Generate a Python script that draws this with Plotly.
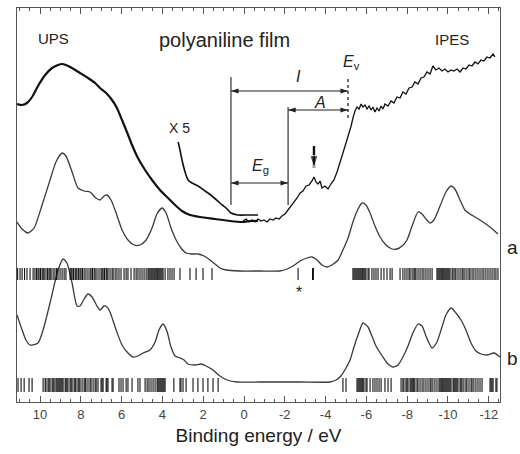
import plotly.graph_objects as go

# ---------------- data (binding energy in eV, intensity in arb. units) ----------------
ups_energy = [11.13, 10.88, 10.64, 10.39, 10.10, 9.75, 9.41, 9.12, 8.92, 8.73, 8.43, 8.04, 7.65, 7.30, 7.06,
              6.76, 6.47, 6.23, 5.98, 5.74, 5.49, 5.20, 4.85, 4.51, 4.12, 3.73, 3.38, 3.04, 2.65, 2.16,
              1.42, 0.69, 0.05, -0.29, -0.69]
ups_intensity = [298, 297, 299, 305, 316, 327, 334, 337, 338, 337, 334, 329, 324, 319, 314,
                 309, 302, 294, 282, 270, 257, 244, 232, 222, 212, 204, 197, 191, 187, 185,
                 183, 181, 180, 181, 181]

x5_energy = [3.23, 3.14, 3.04, 2.89, 2.74, 2.55, 2.25, 1.91, 1.57, 1.18, 0.88, 0.64, 0.30, -0.20, -0.69]
x5_intensity = [260, 252, 242, 230, 222, 219, 216, 211, 206, 199, 194, 189, 187, 187, 187]

ipes_energy = [0.05, -0.10, -0.25, -0.39, -0.54, -0.69, -0.83, -0.98, -1.13, -1.27,
               -1.42, -1.57, -1.72, -1.86, -2.01, -2.16, -2.30, -2.45, -2.60, -2.75,
               -2.89, -3.04, -3.19, -3.33,
               -3.43, -3.53, -3.63, -3.73, -3.82,
               -3.97, -4.12, -4.26, -4.41, -4.56, -4.71, -4.85, -5.00, -5.15,
               -5.25, -5.34, -5.44, -5.54, -5.64, -5.74, -5.83, -5.93, -6.03, -6.13,
               -6.23, -6.32, -6.42, -6.52, -6.62, -6.72, -6.81, -6.91,
               -7.06, -7.21, -7.35, -7.50, -7.65, -7.79, -7.94, -8.09, -8.24, -8.38,
               -8.53, -8.68, -8.82, -8.97, -9.12, -9.26, -9.41, -9.56, -9.71, -9.85,
               -10.00, -10.15, -10.29, -10.44, -10.59, -10.74, -10.88, -11.03, -11.18, -11.32,
               -11.47, -11.62, -11.76, -11.91, -12.06, -12.21,
               -12.30]
ipes_intensity = [181, 183, 180, 182, 180, 183, 181, 182, 180, 183,
                  182, 184, 183, 186, 188, 192, 195, 200, 204, 209,
                  211, 216, 217, 221,
                  225, 220, 218, 221, 214,
                  216, 213, 218, 222, 230, 239, 249, 259, 268,
                  276, 284, 291, 295, 293, 298, 295, 297, 293, 296,
                  292, 295, 290, 294, 291, 296, 293, 298,
                  296, 301, 299, 305, 304, 310, 308, 314, 315, 320,
                  318, 324, 325, 330, 328, 336, 332, 334, 331, 333,
                  330, 332, 331, 333, 330, 334, 333, 337, 336, 340,
                  338, 342, 341, 345, 344, 348,
                  345]

calc_a_energy = [11.13, 10.88, 10.59, 10.29, 9.90, 9.51, 9.22, 8.92, 8.73, 8.43,
                 8.14, 7.84, 7.55, 7.26, 7.06, 6.86, 6.72, 6.52, 6.27, 5.98,
                 5.69, 5.39, 5.10, 4.80, 4.51, 4.27, 4.02, 3.82, 3.58, 3.33,
                 3.09, 2.84, 2.55, 2.26, 1.96, 1.67, 1.42, 1.18, 0.88, 0.20,
                 -0.78, -1.76, -2.11, -2.40, -2.75, -3.09, -3.33, -3.58, -3.82, -4.07,
                 -4.31, -4.61, -4.85, -5.10, -5.34, -5.59, -5.79, -5.98, -6.18, -6.42,
                 -6.67, -6.96, -7.26, -7.50, -7.75, -7.99, -8.24, -8.53, -8.73, -8.92,
                 -9.12, -9.31, -9.61, -9.90, -10.15, -10.34, -10.59, -10.83, -11.08, -11.57,
                 -12.06, -12.45]
calc_a_intensity = [180, 173, 169, 174, 197, 222, 240, 249, 246, 230,
                    214, 211, 210, 204, 202, 206, 207, 202, 189, 172,
                    162, 157, 157, 162, 174, 188, 194, 189, 174, 162,
                    154, 149, 148, 148, 146, 142, 138, 134, 132, 131,
                    131, 131, 133, 136, 141, 144, 145, 142, 137, 135,
                    137, 142, 152, 164, 180, 193, 199, 197, 189, 176,
                    165, 157, 153, 153, 156, 162, 176, 190, 188, 183,
                    179, 182, 196, 210, 216, 213, 202, 192, 188, 182,
                    175, 168]

calc_b_energy = [11.13, 10.88, 10.69, 10.49, 10.10, 9.85, 9.51, 9.12, 8.87, 8.68,
                 8.43, 8.19, 8.04, 7.84, 7.65, 7.45, 7.21, 7.06, 6.86, 6.72,
                 6.57, 6.27, 5.98, 5.69, 5.44, 5.20, 4.95, 4.61, 4.36, 4.17,
                 3.97, 3.78, 3.58, 3.38, 3.14, 2.94, 2.75, 2.40, 2.11, 1.86,
                 1.52, 1.18, 0.83, 0.34, -0.78, -2.75, -4.22, -4.51, -4.75, -5.00,
                 -5.20, -5.39, -5.59, -5.83, -6.08, -6.27, -6.47, -6.81, -7.06, -7.30,
                 -7.55, -7.79, -8.04, -8.28, -8.53, -8.73, -8.92, -9.22, -9.46, -9.66,
                 -9.90, -10.15, -10.39, -10.64, -10.88, -11.13, -11.37, -11.62, -11.91, -12.26,
                 -12.55]
calc_b_intensity = [87, 72, 62, 57, 59, 72, 99, 132, 143, 139,
                    119, 96, 96, 103, 108, 105, 96, 92, 96, 95,
                    90, 72, 57, 49, 45, 46, 49, 52, 60, 72,
                    78, 71, 55, 46, 44, 42, 38, 37, 38, 36,
                    32, 26, 22, 20, 20, 20, 20, 22, 26, 34,
                    42, 55, 67, 79, 75, 66, 56, 45, 38, 35,
                    37, 45, 56, 69, 78, 76, 66, 54, 60, 72,
                    87, 94, 89, 82, 72, 59, 51, 48, 47, 49,
                    45]

# stick (level) spectra
sticks_a_energy = [11.10, 10.98, 10.88, 10.76, 10.64, 10.49, 10.34, 10.25, 10.17, 10.10,
                   10.05, 9.98, 9.90, 9.85, 9.80, 9.71, 9.63, 9.56, 9.51, 9.46,
                   9.36, 9.27, 9.19, 9.12, 9.02, 8.92, 8.82, 8.73, 8.53, 8.48,
                   8.43, 8.36, 8.28, 8.24, 8.19, 8.11, 8.04, 7.99, 7.92, 7.84,
                   7.75, 7.65, 7.55, 7.50, 7.43, 7.35, 7.30, 7.21, 7.11, 7.01,
                   6.96, 6.91, 6.84, 6.76, 6.72, 6.67, 6.57, 6.47, 6.42, 6.32,
                   6.23, 6.13, 6.03, 5.88, 5.78, 5.69, 5.54, 5.39, 5.29, 5.20,
                   5.10, 5.00, 4.90, 4.80, 4.71, 4.66, 4.61, 4.56, 4.51, 4.46,
                   4.41, 4.36, 4.31, 4.26, 4.22, 4.17, 4.12, 4.07, 4.02, 3.97,
                   3.87, 3.73, 3.63, 3.53, 3.43, 3.14, 2.65, 2.35, 2.01, 1.57,
                   -2.65, -3.36, -3.40,
                   -5.34, -5.39, -5.44, -5.49, -5.54, -5.59, -5.64, -5.69, -5.74, -5.79,
                   -5.83, -5.88, -5.93, -5.98, -6.08, -6.13, -6.27, -6.37, -6.47, -6.57,
                   -6.72, -6.86, -7.01, -7.16, -7.26, -7.65, -7.79, -7.89, -7.99, -8.09,
                   -8.14, -8.24, -8.33, -8.38, -8.43, -8.53, -8.63, -8.73, -8.82, -8.92,
                   -9.02, -9.12, -9.22, -9.46, -9.51, -9.56, -9.61, -9.66, -9.71, -9.75,
                   -9.80, -9.85, -9.90, -9.95, -10.00, -10.05, -10.10, -10.20, -10.25, -10.34,
                   -10.39, -10.49, -10.59, -10.69, -10.74, -10.83, -10.93, -11.03, -11.08, -11.18,
                   -11.27, -11.37, -11.47, -11.57, -11.67, -11.76, -11.86, -11.96, -12.06, -12.16,
                   -12.26, -12.35, -12.45]
sticks_b_energy = [11.08, 10.93, 10.78, 10.54, 10.39, 9.85, 9.75, 9.71, 9.61, 9.56,
                   9.51, 9.41, 9.36, 9.31, 9.22, 9.17, 9.12, 9.07, 9.02, 8.97,
                   8.92, 8.87, 8.77, 8.73, 8.68, 8.63, 8.53, 8.48, 8.43, 8.33,
                   8.28, 8.24, 8.14, 8.09, 8.04, 7.94, 7.84, 7.79, 7.75, 7.65,
                   7.55, 7.50, 7.40, 7.30, 7.25, 7.16, 7.01, 6.96, 6.91, 6.76,
                   6.72, 6.67, 6.47, 6.42, 6.13, 6.03, 5.93, 5.78, 5.69, 5.49,
                   5.20, 5.10, 4.85, 4.75, 4.66, 4.56, 4.46, 4.36, 4.26, 4.22,
                   4.17, 4.12, 4.07, 4.02, 3.97, 3.92, 3.87, 3.44, 3.14, 3.09,
                   2.99, 2.84, 2.50, 2.26, 2.01, 1.77, 1.52, 1.27,
                   -4.85, -5.00, -5.54, -5.59, -5.64, -5.69, -5.74, -5.79, -5.83, -5.88,
                   -5.98, -6.03, -6.18, -6.32, -6.42, -6.52, -6.62, -6.72, -6.91, -7.06,
                   -7.21, -7.70, -7.79, -7.84, -7.94, -7.99, -8.04, -8.14, -8.19, -8.24,
                   -8.29, -8.33, -8.38, -8.48, -8.53, -8.63, -8.73, -8.82, -8.92, -9.02,
                   -9.12, -9.17, -9.26, -9.36, -9.46, -9.56, -9.61, -9.66, -9.71, -9.75,
                   -9.80, -9.85, -9.90, -9.95, -10.00, -10.05, -10.10, -10.15, -10.25, -10.29,
                   -10.34, -10.39, -10.44, -10.49, -10.59, -10.64, -10.69, -10.78, -10.88, -10.93,
                   -11.03, -11.13, -11.18, -11.27, -11.37, -11.47, -11.57, -11.67, -12.06, -12.11,
                   -12.16, -12.21, -12.35, -12.40]
sticks_a_level = [122, 134]
sticks_b_level = [10, 24]

# energy markers (eV)
e_homo_onset = 0.64     # UPS onset line
e_lumo_onset = -2.16    # IPES onset line
e_vacuum = -5.10        # vacuum level Ev
e_gap_state = -3.43     # feature marked by the down arrow

x_tick_vals = [10, 8, 6, 4, 2, 0, -2, -4, -6, -8, -10, -12]
x_tick_text = ["10", "8", "6", "4", "2", "0", "-2", "-4", "-6", "-8", "-10", "-12"]

FONT = "Liberation Sans, Arial, Helvetica, sans-serif"


def stick_xy(energies, level):
    xs, ys = [], []
    for e in energies:
        xs += [e, e, None]
        ys += [level[0], level[1], None]
    return xs, ys


fig = go.Figure()

fig.add_trace(go.Scatter(x=calc_a_energy, y=calc_a_intensity, mode="lines",
                         line=dict(color="#3a3a3a", width=1.3, shape="spline", smoothing=0.6)))
fig.add_trace(go.Scatter(x=calc_b_energy, y=calc_b_intensity, mode="lines",
                         line=dict(color="#3a3a3a", width=1.3, shape="spline", smoothing=0.6)))

sx, sy = stick_xy(sticks_a_energy, sticks_a_level)
fig.add_trace(go.Scatter(x=sx, y=sy, mode="lines", line=dict(color="#111", width=1.1)))
sx, sy = stick_xy(sticks_b_energy, sticks_b_level)
fig.add_trace(go.Scatter(x=sx, y=sy, mode="lines", line=dict(color="#111", width=1.1)))

fig.add_trace(go.Scatter(x=ups_energy, y=ups_intensity, mode="lines",
                         line=dict(color="#111", width=2.2, shape="spline", smoothing=0.5)))
fig.add_trace(go.Scatter(x=x5_energy, y=x5_intensity, mode="lines",
                         line=dict(color="#111", width=1.6, shape="spline", smoothing=0.5)))
fig.add_trace(go.Scatter(x=ipes_energy, y=ipes_intensity, mode="lines",
                         line=dict(color="#111", width=1.3)))

# vertical marker lines
line_style = dict(color="#333", width=1.2)
fig.add_shape(type="line", xref="x", yref="y", x0=e_homo_onset, x1=e_homo_onset, y0=197, y1=325, line=line_style)
fig.add_shape(type="line", xref="x", yref="y", x0=e_lumo_onset, x1=e_lumo_onset, y0=197, y1=295, line=line_style)
fig.add_shape(type="line", xref="x", yref="y", x0=e_vacuum, x1=e_vacuum, y0=284, y1=324,
              line=dict(color="#222", width=1.3, dash="dot"))


# double-headed arrows drawn as line + arrow markers
def double_arrow(x_left, x_right, y):
    fig.add_trace(go.Scatter(x=[x_left, x_right], y=[y, y], mode="lines+markers",
                             line=dict(color="#222", width=1),
                             marker=dict(symbol="arrow", size=8, angle=[-90, 90], color="#222")))


double_arrow(e_homo_onset, e_vacuum, 311)
double_arrow(e_lumo_onset, e_vacuum, 292)
double_arrow(e_homo_onset, e_lumo_onset, 219)

# down arrow at the gap state
fig.add_trace(go.Scatter(x=[e_gap_state, e_gap_state], y=[256, 234], mode="lines+markers",
                         line=dict(color="#111", width=2.4),
                         marker=dict(symbol="arrow", size=[0, 13], angle=[180, 180], color="#111")))


def label(text, x, y, size, xref="x", yref="y"):
    fig.add_annotation(x=x, y=y, xref=xref, yref=yref, text=text, showarrow=False,
                       font=dict(family=FONT, size=size, color="#222"),
                       xanchor="center", yanchor="middle")


label("UPS", 9.36, 364, 15)
label("polyaniline film", 0.98, 362, 20)
label("IPES", -10.19, 363, 15)
label("X 5", 3.14, 274, 14)
label("*", -2.70, 110, 16)
label("<i>I</i>", -2.65, 326, 16)
label("<i>A</i>", -3.72, 300, 16)
label("<i>E</i><sub>g</sub>", -0.83, 236, 16)
label("<i>E</i><sub>v</sub>", -5.25, 340, 16)
label("a", 1.025, 0.393, 19, xref="paper", yref="paper")
label("b", 1.025, 0.11, 19, xref="paper", yref="paper")

fig.update_layout(
    width=520, height=454,
    margin=dict(l=17, r=20, t=8, b=52),
    paper_bgcolor="white", plot_bgcolor="white",
    showlegend=False,
    font=dict(family=FONT, color="#333"),
    xaxis=dict(range=[11.13, -12.55], showgrid=False, zeroline=False,
               showline=True, linecolor="#555", linewidth=1, mirror="ticks",
               ticks="inside", ticklen=6, tickcolor="#555", tickwidth=1,
               tickvals=x_tick_vals, ticktext=x_tick_text,
               tickfont=dict(size=13, color="#444"),
               minor=dict(dtick=0.5, tick0=0, ticks="inside", ticklen=3, tickcolor="#555"),
               title=dict(text="Binding energy / eV", font=dict(size=19, color="#222"), standoff=8)),
    yaxis=dict(range=[0, 394], showgrid=False, zeroline=False, showticklabels=False,
               showline=True, linecolor="#555", linewidth=1, mirror=True, ticks=""),
)

# remove the browser's default 8px page margin so the 520x454 figure fills the window
fig.write_html("out.html", config={"displayModeBar": False},
               post_script="document.body.style.margin='0px';")
